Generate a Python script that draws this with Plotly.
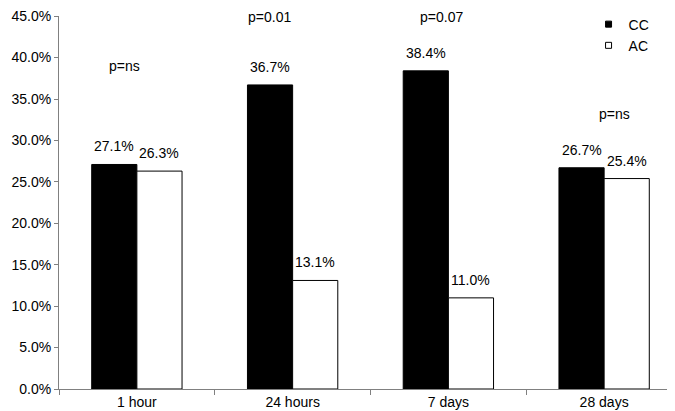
import plotly.graph_objects as go

categories = ["1 hour", "24 hours", "7 days", "28 days"]
cc_values = [27.1, 36.7, 38.4, 26.7]
ac_values = [26.3, 13.1, 11.0, 25.4]
p_labels = ["p=ns", "p=0.01", "p=0.07", "p=ns"]
p_heights = [39.0, 44.9, 44.9, 33.2]
p_xshift = [-12, -23, -7, 10]
y_ticks = [0, 5, 10, 15, 20, 25, 30, 35, 40, 45]

FONT = "Liberation Sans, Arial, sans-serif"
FS = 14
AXC = "#808080"

fig = go.Figure()
fig.add_trace(go.Bar(x=categories, y=cc_values, name="CC", marker=dict(color="black", line=dict(color="black", width=1)), showlegend=False))
fig.add_trace(go.Bar(x=categories, y=ac_values, name="AC", marker=dict(color="white", line=dict(color="black", width=1)), showlegend=False))
# legend-only entries with small square symbols
fig.add_trace(go.Scatter(x=[None], y=[None], mode="markers", name="CC",
                         marker=dict(symbol="square", size=6, color="black", line=dict(color="black", width=1))))
fig.add_trace(go.Scatter(x=[None], y=[None], mode="markers", name="AC",
                         marker=dict(symbol="square", size=6, color="white", line=dict(color="black", width=1))))

annotations = []
for i, c in enumerate(categories):
    annotations.append(dict(x=c, y=cc_values[i], xref="x", yref="y", text=f"{cc_values[i]:.1f}%",
                            showarrow=False, xshift=-22.5, yshift=18, yanchor="middle",
                            font=dict(family=FONT, size=FS, color="black")))
    annotations.append(dict(x=c, y=ac_values[i], xref="x", yref="y", text=f"{ac_values[i]:.1f}%",
                            showarrow=False, xshift=22.5, yshift=18, yanchor="middle",
                            font=dict(family=FONT, size=FS, color="black")))
    annotations.append(dict(x=c, y=p_heights[i], xref="x", yref="y", text=p_labels[i],
                            showarrow=False, xshift=p_xshift[i], yanchor="middle",
                            font=dict(family=FONT, size=FS, color="black")))

fig.update_layout(
    width=675, height=411,
    margin=dict(l=51, r=1, t=8, b=30, autoexpand=False),
    paper_bgcolor="white", plot_bgcolor="white",
    barmode="group", bargap=0.42, bargroupgap=0,
    font=dict(family=FONT, size=FS, color="black"),
    annotations=annotations,
    legend=dict(x=0.85, y=1.02, xanchor="left", yanchor="top", bgcolor="rgba(0,0,0,0)",
                font=dict(family=FONT, size=FS, color="black"), tracegroupgap=0),
    xaxis=dict(showline=True, linecolor=AXC, linewidth=1, ticks="outside", tickson="boundaries",
               ticklen=5, tickcolor=AXC, showgrid=False, zeroline=False,
               tickfont=dict(family=FONT, size=FS, color="black")),
    yaxis=dict(range=[0, 45.02], tickvals=y_ticks, ticktext=[f"{v:.1f}%" for v in y_ticks],
               showline=True, linecolor=AXC, linewidth=1, ticks="outside", ticklen=4, tickcolor=AXC,
               showgrid=False, zeroline=False, ticklabeloverflow="allow",
               tickfont=dict(family=FONT, size=FS, color="black")),
)

fig.write_html("out.html")
